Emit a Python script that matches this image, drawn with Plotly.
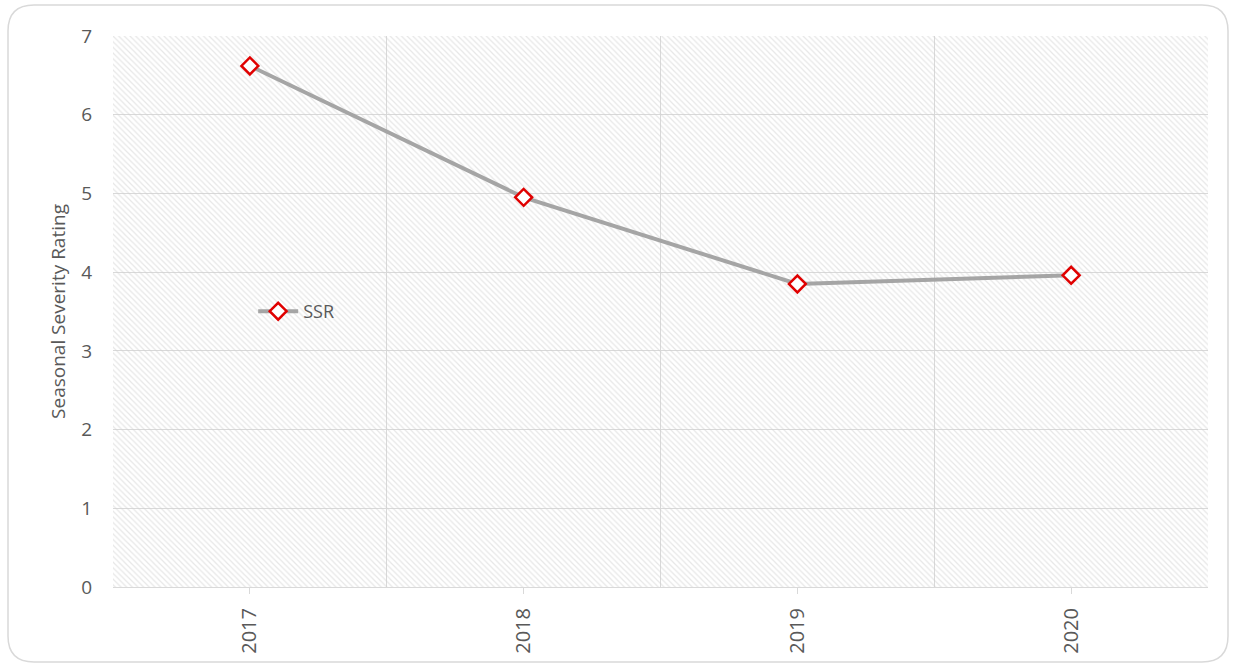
import plotly.graph_objects as go

years = ["2017", "2018", "2019", "2020"]
ssr = [6.62, 4.95, 3.85, 3.96]
y_ticks = [0, 1, 2, 3, 4, 5, 6, 7]

W, H = 1235, 667
L, R, T, B = 113, 27, 36, 80
pw, ph = W - L - R, H - T - B

xs = list(range(len(years)))
fig = go.Figure()

# hatched plot background
fig.add_trace(go.Bar(
    x=[(len(years) - 1) / 2], y=[y_ticks[-1]], width=[len(years)], base=[0],
    marker=dict(color="rgba(0,0,0,0)", line=dict(width=0),
                pattern=dict(shape="\\", fgcolor="#cfcfcf", bgcolor="rgba(0,0,0,0)",
                             fillmode="overlay", size=4, solidity=0.3)),
    showlegend=False, hoverinfo="skip"))

fig.add_trace(go.Scatter(
    x=xs, y=ssr, name="SSR", mode="lines+markers",
    line=dict(color="#a5a5a5", width=4),
    marker=dict(symbol="diamond", size=13, color="white",
                line=dict(color="#e00000", width=2.5))))

def px_x(p):
    return (p - L) / pw

def px_y(p):
    return (H - B - p) / ph

x0, x1, y0, y1 = px_x(8), px_x(1228), px_y(662), px_y(5)
rx, ry = 26 / pw, 26 / ph
path = (f"M {x0+rx},{y1} L {x1-rx},{y1} Q {x1},{y1} {x1},{y1-ry} "
        f"L {x1},{y0+ry} Q {x1},{y0} {x1-rx},{y0} L {x0+rx},{y0} "
        f"Q {x0},{y0} {x0},{y0+ry} L {x0},{y1-ry} Q {x0},{y1} {x0+rx},{y1} Z")
fig.add_shape(type="path", path=path, xref="paper", yref="paper",
              line=dict(color="#d9d9d9", width=1.5), layer="below")

font = "Open Sans, Noto Sans, sans-serif"
fig.update_layout(
    width=W, height=H,
    margin=dict(l=L, r=R, t=T, b=B),
    paper_bgcolor="white", plot_bgcolor="white",
    font=dict(family=font, color="#595959", size=18),
    bargap=0,
    showlegend=True,
    legend=dict(x=0.128, y=0.5, xanchor="left", yanchor="middle",
                bgcolor="rgba(0,0,0,0)", font=dict(size=18, color="#595959"),
                itemwidth=40),
    xaxis=dict(range=[-0.5, len(years) - 0.5], tickvals=xs, ticktext=years,
               tickangle=-90, showgrid=False, zeroline=False,
               ticks="outside", ticklen=6, tickcolor="#d9d9d9",
               showline=True, linecolor="#d9d9d9", linewidth=1,
               ticklabelstandoff=6,
               minor=dict(tickvals=[i - 0.5 for i in range(len(years) + 1)],
                          showgrid=True, gridcolor="#d9d9d9", gridwidth=1,
                          ticks=""),
               tickfont=dict(size=20)),
    yaxis=dict(range=[0, 7], tickvals=y_ticks, showgrid=True,
               gridcolor="#d9d9d9", gridwidth=1, zeroline=False,
               ticklabelstandoff=20, tickfont=dict(size=19),
               title=dict(text="Seasonal Severity Rating", standoff=10,
                          font=dict(size=19, color="#595959"))),
)

fig.write_html("out.html")
